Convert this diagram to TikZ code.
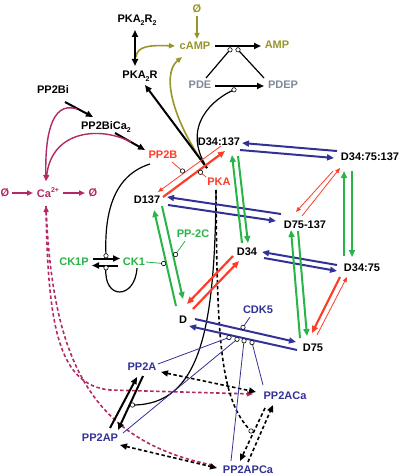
\documentclass[tikz,border=0pt]{standalone}
\usepackage{fontspec}
\setmainfont{Liberation Sans}
\usetikzlibrary{arrows.meta}
\definecolor{cOlive}{RGB}{150,150,40}
\definecolor{cGrey}{RGB}{125,138,155}
\definecolor{cRed}{RGB}{255,60,40}
\definecolor{cGreen}{RGB}{40,180,70}
\definecolor{cBlue}{RGB}{50,50,150}
\definecolor{cMag}{RGB}{180,40,100}
\newcommand\sbs[1]{\raisebox{-0.3em}{\fontsize{7}{7}\selectfont #1}}
\newcommand\sps[1]{\raisebox{0.45em}{\fontsize{7}{7}\selectfont #1}}
\tikzset{
  lbl/.style={font=\fontsize{11}{12}\selectfont\bfseries, inner sep=0pt},
  thk/.style={line width=2pt, -{Triangle[length=7pt,width=6pt]}},
  thkb/.style={line width=2pt, {Triangle[length=7pt,width=6pt]}-{Triangle[length=7pt,width=6pt]}},
  thn/.style={line width=0.8pt, -{Triangle[length=5pt,width=4pt]}},
  oarr/.style={line width=1.6pt, -{Triangle[length=6pt,width=5pt]}},
  cat/.style={circle, draw=black, fill=white, line width=0.6pt, inner sep=0pt, minimum size=4.4pt},
  cline/.style={line width=0.8pt},
  dsh/.style={line width=1.6pt, dash pattern=on 3.5pt off 2.5pt},
}
\begin{document}
\begin{tikzpicture}[x=1pt,y=-1pt]
\path[use as bounding box] (0,0) rectangle (401,476);

% ---------- labels ----------
\node[lbl,text=cOlive] (e1) at (197,9) {Ø};
\node[lbl,text=cOlive] (cAMP) at (195,46) {cAMP};
\node[lbl,text=cOlive] (AMP) at (277,45) {AMP};
\node[lbl] (R2) at (137,20) {PKA\sbs{2}R\sbs{2}};
\node[lbl] (R1) at (140,76) {PKA\sbs{2}R};
\node[lbl,text=cGrey] (PDE) at (200,85) {PDE};
\node[lbl,text=cGrey] (PDEP) at (283,85) {PDEP};
\node[lbl] (PP2Bi) at (53,90) {PP2Bi};
\node[lbl] (PP2BiCa) at (106,127) {PP2BiCa\sbs{2}};
\node[lbl,text=cRed] (PP2B) at (163,155) {PP2B};
\node[lbl,text=cRed] (PKA) at (219,182) {PKA};
\node[lbl] (D34137) at (219,142) {D34:137};
\node[lbl] (D3475137) at (370,157) {D34:75:137};
\node[lbl] (D137) at (147,200) {D137};
\node[lbl] (D75137) at (305,225) {D75-137};
\node[lbl] (D34) at (247,252) {D34};
\node[lbl] (D3475) at (362,268) {D34:75};
\node[lbl,text=cGreen] (PP2C) at (193,234) {PP-2C};
\node[lbl,text=cGreen] (CK1P) at (74,262) {CK1P};
\node[lbl,text=cGreen] (CK1) at (134,262) {CK1};
\node[lbl,text=cMag] (e2) at (5,193) {Ø};
\node[lbl,text=cMag] (Ca) at (48,193) {Ca\sps{2+}};
\node[lbl,text=cMag] (e3) at (93,193) {Ø};
\node[lbl] (D) at (183,320) {D};
\node[lbl] (D75) at (313,348) {D75};
\node[lbl,text=cBlue] (CDK5) at (258,310) {CDK5};
\node[lbl,text=cBlue] (PP2A) at (142,367) {PP2A};
\node[lbl,text=cBlue] (PP2ACa) at (285,396) {PP2ACa};
\node[lbl,text=cBlue] (PP2AP) at (100,438) {PP2AP};
\node[lbl,text=cBlue] (PP2APCa) at (248,470) {PP2APCa};

% ---------- catalysis circles (positions) ----------
\coordinate (k1) at (230,49.8);
\coordinate (k2) at (238,49.8);
\coordinate (k3) at (234,89.8);
\coordinate (kPP2B) at (182.5,171);
\coordinate (kPKA) at (200.5,172.3);
\coordinate (kCK1) at (163.6,263.5);
\coordinate (kPP2C) at (175.5,254.5);
\coordinate (kCKa) at (106,255.8);
\coordinate (kCKb) at (106,267.8);
\coordinate (kCDK5) at (243,327.3);
\coordinate (kA1) at (229,337.5);
\coordinate (kA2) at (237,339.3);
\coordinate (kA3) at (244,340.8);
\coordinate (kA4) at (252,342.6);
\coordinate (kPPA) at (132.5,405);
\coordinate (kPPC) at (251,431);
\coordinate (pkaT) at (207,168);
\coordinate (pkaB) at (216,190);

% ---------- olive ----------
\draw[oarr,draw=cOlive,color=cOlive,shorten <=3pt,shorten >=3pt] (e1.south) -- (e1.south |- cAMP.north);
\draw[oarr,draw=cOlive,color=cOlive] (136,57) .. controls (137,46) and (150,45) .. (175,46);
\draw[oarr,draw=cOlive,color=cOlive] (pkaT) .. controls (175,125) and (160,75) .. (182,57);

% ---------- black top ----------
\draw[thkb] (135,30) -- (135,66);
\draw[thk] (215,46) -- (261,46);
\draw[thk] (215,86) -- (264,86);
\draw[line width=1.2pt] (206,78) -- (k1);
\draw[line width=1.2pt] (k2) -- (264,78);
\draw[line width=1.2pt] (k3) .. controls (215,98) and (180,125) .. (pkaT);
\draw[thk] (pkaT) -- (145,85);
\draw[thk] (65,102) -- (93,117);
\draw[thk] (115,133) -- (145,150);

% ---------- magenta ----------
\draw[oarr,draw=cMag,color=cMag,line width=1.4pt] (77,109) .. controls (50,100) and (45,140) .. (46,181);
\draw[oarr,draw=cMag,color=cMag,line width=1.4pt] (131,142) .. controls (100,126) and (52,130) .. (46,181);
\draw[oarr,draw=cMag,color=cMag] (12,193) -- (33,193);
\draw[oarr,draw=cMag,color=cMag] (63,193) -- (85,193);
\draw[dsh,draw=cMag,{Triangle[length=6pt,width=5pt]}-{Triangle[length=6pt,width=5pt]},color=cMag]
  (46,206) .. controls (48,330) and (60,385) .. (110,390) -- (253,394);
\draw[dsh,draw=cMag] (46,206) .. controls (52,360) and (90,440) .. (212,465);

% ---------- black dashed ----------
\draw[dsh,{Triangle[length=7pt,width=6pt]}-{Triangle[length=7pt,width=6pt]}] (161,372) -- (256,392);
\draw[dsh,{Triangle[length=7pt,width=6pt]}-{Triangle[length=7pt,width=6pt]}] (120,445) -- (217,468);
\draw[dsh,-{Triangle[length=7pt,width=6pt]}] (265,408) -- (240,461);
\draw[dsh,-{Triangle[length=7pt,width=6pt]}] (248,462) -- (273,405);
\draw[dsh] (pkaB) .. controls (217,340) and (220,400) .. (kPPC);
\draw[line width=1.2pt] (pkaB) .. controls (215,330) and (200,405) .. (kPPA);

% ---------- blue ----------
\begin{scope}[draw=cBlue,color=cBlue]
\draw[thk] (337,151) -- (242,143);
\draw[thk] (240,150) -- (334,158);
\draw[thk] (281,214) -- (167,197);
\draw[thk] (168,205) -- (276,221);
\draw[thk] (337,265) -- (262,252);
\draw[thk] (264,258) -- (337,271);
\draw[thk] (195,319) -- (296,342);
\draw[thk] (297,350) -- (189,326);
\draw[cline] (250,317) -- (kCDK5);
\draw[cline] (158,364) -- (kA1);
\draw[cline] (123,433) -- (kA2);
\draw[cline] (231,461) -- (kA3);
\draw[cline] (263,385) -- (kA4);
\end{scope}

% ---------- green ----------
\begin{scope}[draw=cGreen,color=cGreen]
\draw[thk] (176,306) -- (154,210);
\draw[thk] (162,206) -- (183,299);
\draw[thk] (242,243) -- (232,155);
\draw[thk] (238,156) -- (248,243);
\draw[thk] (344,256) -- (344,171);
\draw[thk] (352,171) -- (352,257);
\draw[thk] (300,338) -- (291,230);
\draw[thk] (298,231) -- (307,336);
\draw[cline] (146,262) -- (kCK1);
\draw[cline] (185,241) -- (kPP2C);
\end{scope}

% ---------- red ----------
\begin{scope}[draw=cRed,color=cRed]
\draw[thk,line width=2.2pt] (163,197) -- (225,151);
\draw[thn] (221,146) -- (158,192);
\draw[thk,line width=2.2pt] (233,256) -- (187,304);
\draw[thk,line width=2.2pt] (193,309) -- (239,261);
\draw[thn] (333,171) -- (296,212);
\draw[thn] (302,216) -- (340,168);
\draw[thk,line width=2.2pt] (340,277) -- (312,333);
\draw[thn] (317,335) -- (347,277);
\draw[cline] (172,162) -- (kPP2B);
\draw[cline] (206,177) -- (kPKA);
\end{scope}

% ---------- black lower ----------
\draw[thk] (110,428) -- (137,377);
\draw[thk] (143,376) -- (118,430);
\draw[thk] (93,258.5) -- (120,258.5);
\draw[thk] (118,265.5) -- (92,265.5);
\draw[line width=1.2pt] (150,164) .. controls (115,175) and (104,210) .. (kCKa);
\draw[line width=1.2pt] (kCKb) .. controls (103,300) and (135,300) .. (137,268);

% ---------- circles ----------
\foreach \c in {k1,k2,k3,kPP2B,kPKA,kCK1,kPP2C,kCKa,kCKb,kCDK5,kA1,kA2,kA3,kA4,kPPA,kPPC}
  \node[cat] at (\c) {};
\end{tikzpicture}
\end{document}
